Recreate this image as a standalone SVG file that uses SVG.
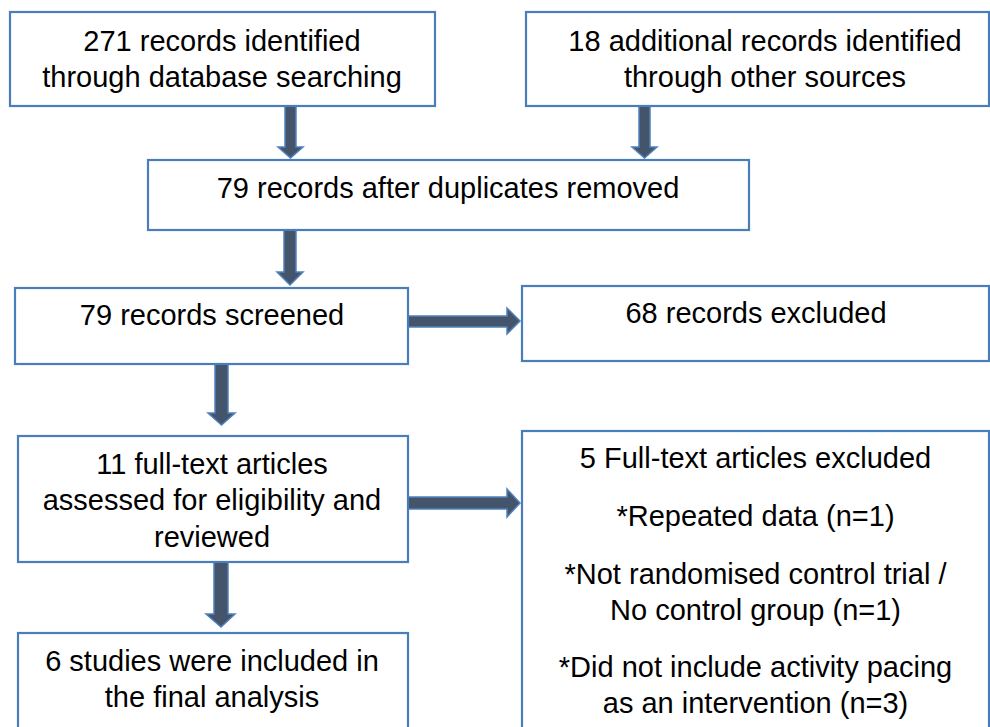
<svg xmlns="http://www.w3.org/2000/svg" width="990" height="727" viewBox="0 0 990 727">
<style>
.box{fill:#fff;stroke:#4A7EBB;stroke-width:2.2}
.arr{fill:#44546A;stroke:#4F81BD;stroke-width:1.5;stroke-linejoin:miter}
text{font-family:"Liberation Sans",Arial,sans-serif;font-size:29px;fill:#000;text-anchor:middle}
</style>
<rect width="990" height="727" fill="#fff"/>
<g id="connectors">
<polygon class="arr" points="285,106 296,106 296,147 303,147 290.5,158 278,147 285,147"/>
<polygon class="arr" points="639,106 650,106 650,147 657,147 644.5,158 632,147 639,147"/>
<polygon class="arr" points="284,230 296,230 296,272 303,272 290,285 277,272 284,272"/>
<polygon class="arr" points="215,364 228,364 228,413 235,413 221.5,425 208,413 215,413"/>
<polygon class="arr" points="214,562 228,562 228,614 235,614 221,627 206,614 214,614"/>
<polygon class="arr" points="408,316 507,316 507,308 520,321 507,334 507,327 408,327"/>
<polygon class="arr" points="408,497 507,497 507,489 520,503 507,517 507,509 408,509"/>
</g>
<g id="n1"><rect class="box" x="10" y="12" width="425" height="94"/>
<text x="222" y="50.5">271 records identified</text><text x="222" y="87">through database searching</text></g>
<g id="n2"><rect class="box" x="526" y="12" width="463" height="94"/>
<text x="765" y="50.5">18 additional records identified</text><text x="765" y="87">through other sources</text></g>
<g id="n3"><rect class="box" x="148" y="160" width="601" height="70"/>
<text x="448" y="198">79 records after duplicates removed</text></g>
<g id="n4"><rect class="box" x="15" y="288" width="393" height="76"/>
<text x="212" y="325">79 records screened</text></g>
<g id="n5"><rect class="box" x="522" y="286" width="467" height="75"/>
<text x="756" y="323">68 records excluded</text></g>
<g id="n6"><rect class="box" x="18" y="436" width="390" height="126"/>
<text x="212" y="474">11 full-text articles</text><text x="212" y="510">assessed for eligibility and</text><text x="212" y="547">reviewed</text></g>
<g id="n7"><rect class="box" x="522" y="431" width="467" height="310"/>
<text x="755.5" y="468">5 Full-text articles excluded</text>
<text x="755.5" y="526">*Repeated data (n=1)</text>
<text x="755.5" y="584">*Not randomised control trial /</text>
<text x="755.5" y="620">No control group (n=1)</text>
<text x="755.5" y="677">*Did not include activity pacing</text>
<text x="755.5" y="713">as an intervention (n=3)</text></g>
<g id="n8"><rect class="box" x="18" y="633" width="390" height="110"/>
<text x="212" y="670.5">6 studies were included in</text><text x="212" y="706.5">the final analysis</text></g>
</svg>
